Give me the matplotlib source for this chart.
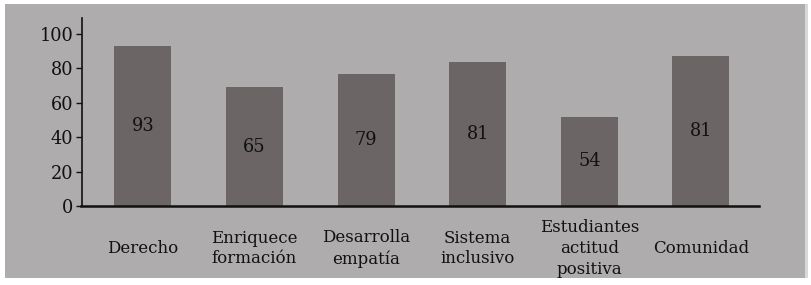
import matplotlib
matplotlib.use("Agg")
import matplotlib.pyplot as plt
from matplotlib.patches import Rectangle

categories = ["Derecho", "Enriquece\nformación", "Desarrolla\nempatía", "Sistema\ninclusivo",
              "Estudiantes\nactitud\npositiva", "Comunidad"]
bar_heights = [93, 69, 77, 84, 52, 87]
value_labels = ["93", "65", "79", "81", "54", "81"]
y_ticks = [0, 20, 40, 60, 80, 100]

plt.rcParams['font.family'] = ['DejaVu Serif']
FS_NUM = 12.8
FS_CAT = 12

W, H = 811, 285
fig = plt.figure(figsize=(W / 100, H / 100), dpi=100, facecolor='white')
# gray panel
fig.patches.append(Rectangle((5 / W, 1 - 278 / H), 800 / W, 274 / H, transform=fig.transFigure,
                             facecolor='#aeacad', edgecolor='none', zorder=-5))
fig.patches.append(Rectangle((805 / W, 1 - 278 / H), 3 / W, 274 / H, transform=fig.transFigure,
                             facecolor='#d8d8d8', edgecolor='none', zorder=-5))

ax = fig.add_axes([81.5 / W, 1 - 206 / H, (759 - 81.5) / W, (206 - 18) / H])
ax.set_facecolor('none')
ax.set_zorder(1)

x = list(range(len(categories)))
ax.bar(x, bar_heights, width=0.51, color='#6b6566', zorder=2)
for xi, h, lab in zip(x, bar_heights, value_labels):
    ax.text(xi, h / 2, lab, ha='center', va='center', fontsize=FS_NUM, color='#111111', zorder=3)

ax.set_xlim(-0.55, 5.52)
ax.set_ylim(0, 109.3)
ax.set_yticks(y_ticks)
ax.set_yticklabels([str(v) for v in y_ticks], fontsize=FS_NUM)
ax.tick_params(axis='y', length=4, width=1, direction='out', pad=2, colors='#111111')
ax.set_xticks(x)
ax.set_xticklabels(categories, fontsize=FS_CAT, linespacing=1.28)
ax.tick_params(axis='x', length=0, pad=30.5, colors='#111111')
for t in ax.get_xticklabels():
    t.set_verticalalignment('center')
    t.set_multialignment('center')

for s in ['top', 'right']:
    ax.spines[s].set_visible(False)
ax.spines['left'].set_linewidth(1.2)
ax.spines['bottom'].set_linewidth(1.8)
ax.spines['left'].set_color('#111111')
ax.spines['bottom'].set_color('#111111')

fig.savefig('out.png', dpi=100, facecolor='white')
